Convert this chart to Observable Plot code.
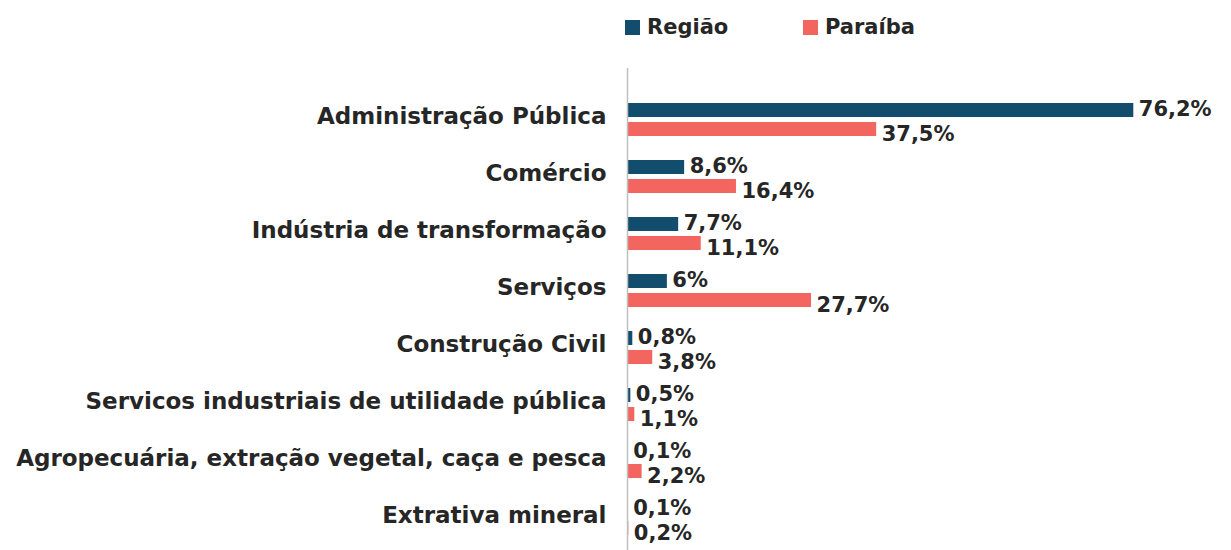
<!DOCTYPE html>
<html><head><meta charset="utf-8">
<script src="https://cdn.jsdelivr.net/npm/d3@7"></script>
<script src="https://cdn.jsdelivr.net/npm/@observablehq/plot@0.6"></script>
<style>
body{margin:0;background:#fff;}
#legend{height:55px;position:relative;font-family:"DejaVu Sans";font-weight:bold;font-size:21px;color:#262626}
.item{position:absolute;top:15px;display:flex;align-items:center;}
.sw{width:15px;height:15px;margin-right:7px}
</style></head><body>
<div id="legend"></div><div id="chart"></div>
<script>
const categories = ["Administração Pública","Comércio","Indústria de transformação","Serviços","Construção Civil","Servicos industriais de utilidade pública","Agropecuária, extração vegetal, caça e pesca","Extrativa mineral"];
const regiao = [76.2, 8.6, 7.7, 6, 0.8, 0.5, 0.1, 0.1];
const paraiba = [37.5, 16.4, 11.1, 27.7, 3.8, 1.1, 2.2, 0.2];
const seriesNames = ["Região", "Paraíba"];
const colors = ["#134d6e", "#f2665f"];

const rowsR = categories.map((c, i) => ({category: c, series: seriesNames[0], value: regiao[i]}));
const rowsP = categories.map((c, i) => ({category: c, series: seriesNames[1], value: paraiba[i]}));
const fmt = v => String(v).replace(".", ",") + "%";

// legend
const lg = document.getElementById("legend");
const lpos = [625, 803];
seriesNames.forEach((s, i) => {
  const d = document.createElement("div");
  d.className = "item";
  d.style.left = lpos[i] + "px";
  d.innerHTML = `<span class="sw" style="background:${colors[i]}"></span><span>${s}</span>`;
  lg.appendChild(d);
});

const labelFont = {fontFamily: "DejaVu Sans", fontWeight: "bold", fontSize: 21, fill: "#262626", textAnchor: "start", dx: 5};

const chart = Plot.plot({
  width: 1231,
  height: 495,
  marginLeft: 627,
  marginRight: 6,
  marginTop: 13,
  marginBottom: 0,
  style: {fontFamily: "DejaVu Sans", fontSize: "23px", fontWeight: "bold", color: "#262626", background: "#fff"},
  x: {domain: [0, 90], axis: null},
  y: {domain: categories, padding: 0, round: false, insetTop: 23, insetBottom: 3, axis: null},
  marks: [
    Plot.barX(rowsR, {x: "value", y: "category", fill: colors[0], insetTop: 12, insetBottom: 31}),
    Plot.barX(rowsP, {x: "value", y: "category", fill: colors[1], insetTop: 31, insetBottom: 12}),
    Plot.text(rowsR, {x: "value", y: "category", text: d => fmt(d.value), dy: -11, ...labelFont}),
    Plot.text(rowsP, {x: "value", y: "category", text: d => fmt(d.value), dy: 14, ...labelFont}),
    Plot.ruleX([0], {stroke: "#bfbfbf", strokeWidth: 1.5}),
    Plot.axisY({tickSize: 0, tickPadding: 21, dy: -3, label: null, fontSize: 23, fill: "#262626"})
  ]
});
document.getElementById("chart").appendChild(chart);
</script>
</body></html>
